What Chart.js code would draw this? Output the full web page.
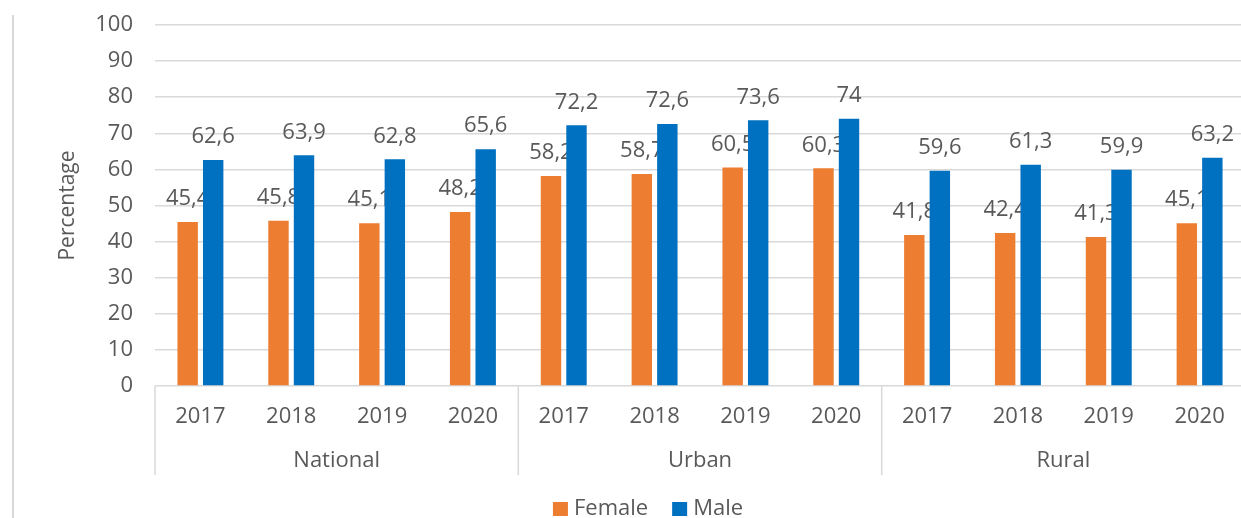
<!DOCTYPE html>
<html>
<head>
<meta charset="utf-8">
<script src="https://cdn.jsdelivr.net/npm/chart.js@4/dist/chart.umd.min.js"></script>
<style>
  html, body { margin: 0; padding: 0; background: #fff; overflow: hidden; }
  #wrap { position: relative; width: 1245px; height: 518px; }
</style>
</head>
<body>
<div id="wrap"><canvas id="chart"></canvas></div>
<script>
const years = ["2017", "2018", "2019", "2020", "2017", "2018", "2019", "2020", "2017", "2018", "2019", "2020"];
const groups = ["National", "Urban", "Rural"];
const female = [45.4, 45.8, 45.1, 48.2, 58.2, 58.7, 60.5, 60.3, 41.8, 42.4, 41.3, 45.1];
const male = [62.6, 63.9, 62.8, 65.6, 72.2, 72.6, 73.6, 74, 59.6, 61.3, 59.9, 63.2];
const yTicks = [0, 10, 20, 30, 40, 50, 60, 70, 80, 90, 100];

const FONT = "'Open Sans', sans-serif";
const TEXT = "#595959";
const LINE = "#d9d9d9";

// value labels, group labels, separators, legend, frame line
const extras = {
  id: "extras",
  beforeDatasetsDraw(chart) {
    const ctx = chart.ctx;
    ctx.save();
    ctx.font = "22px " + FONT;
    ctx.fillStyle = TEXT;
    ctx.textAlign = "center";
    ctx.textBaseline = "middle";
    chart.data.datasets.forEach((ds, i) => {
      chart.getDatasetMeta(i).data.forEach((bar, j) => {
        ctx.fillText(String(ds.data[j]).replace(".", ","), bar.x, bar.y - 23);
      });
    });
    ctx.restore();
  },
  afterDraw(chart) {
    const ctx = chart.ctx;
    const x = chart.scales.x;
    const area = chart.chartArea;
    const half = (x.getPixelForValue(1) - x.getPixelForValue(0)) / 2;
    ctx.save();
    ctx.strokeStyle = LINE;
    ctx.lineWidth = 1.5;
    for (let g = 0; g <= groups.length; g++) {
      const px = g < groups.length ? x.getPixelForValue(g * 4) - half : x.getPixelForValue(g * 4 - 1) + half;
      ctx.beginPath();
      ctx.moveTo(px, area.bottom);
      ctx.lineTo(px, 475);
      ctx.stroke();
    }
    ctx.font = "22px " + FONT;
    ctx.fillStyle = TEXT;
    ctx.textAlign = "center";
    ctx.textBaseline = "middle";
    groups.forEach((g, i) => {
      const cx = (x.getPixelForValue(i * 4) + x.getPixelForValue(i * 4 + 3)) / 2;
      ctx.fillText(g, cx, 461);
    });

    // legend
    const box = 15, gap = 6, spacing = 24, ly = 509;
    const items = chart.data.datasets.map(ds => ({ label: ds.label, color: ds.backgroundColor, w: ctx.measureText(ds.label).width }));
    const total = items.reduce((s, it) => s + box + gap + it.w, 0) + spacing * (items.length - 1);
    let lx = 648 - total / 2;
    ctx.textAlign = "left";
    items.forEach(it => {
      ctx.fillStyle = it.color;
      ctx.fillRect(lx, ly - 7, box, 14);
      ctx.fillStyle = TEXT;
      ctx.fillText(it.label, lx + box + gap, ly);
      lx += box + gap + it.w + spacing;
    });

    // chart frame, left edge
    ctx.lineWidth = 2;
    ctx.beginPath();
    ctx.moveTo(13, 15);
    ctx.lineTo(13, 518);
    ctx.stroke();
    ctx.restore();
  }
};

new Chart(document.getElementById("chart"), {
  type: "bar",
  data: {
    labels: years,
    datasets: [
      { label: "Female", data: female, backgroundColor: "#ED7D31" },
      { label: "Male", data: male, backgroundColor: "#0070C0" }
    ]
  },
  options: {
    responsive: true,
    maintainAspectRatio: false,
    animation: false,
    categoryPercentage: 0.562,
    barPercentage: 0.8,
    layout: { padding: { top: 25, left: 0, right: 0, bottom: 0 } },
    plugins: {
      tooltip: { enabled: false },
      legend: { display: false }
    },
    scales: {
      x: {
        grid: { display: false, drawTicks: false },
        border: { display: false },
        ticks: { color: TEXT, font: { family: FONT, size: 22 }, padding: 18, maxRotation: 0, autoSkip: false },
        afterFit(scale) { scale.height = 132; }
      },
      y: {
        min: 0,
        max: 100,
        afterBuildTicks(scale) { scale.ticks = yTicks.map(v => ({ value: v })); },
        grid: { color: LINE, lineWidth: 1.5, drawTicks: false },
        border: { display: false },
        ticks: { color: TEXT, font: { family: FONT, size: 22 }, padding: 22 },
        title: { display: true, text: "Percentage", color: TEXT, font: { family: FONT, size: 21 }, padding: { top: 55, bottom: 0 } },
        afterFit(scale) {
          scale.width = 155;
          scale.paddingTop = 0;
          scale.paddingBottom = 0;
        }
      }
    }
  },
  plugins: [extras]
});
</script>
</body>
</html>
